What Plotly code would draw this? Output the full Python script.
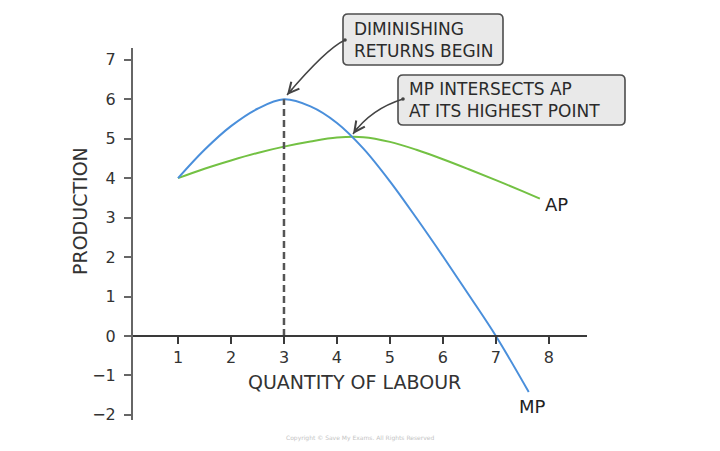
import plotly.graph_objects as go

# ---------------- data ----------------
mp_x = [1.0, 1.5, 2.0, 2.5, 3.0, 3.5, 4.0, 4.5, 5.0, 5.5, 6.0, 6.5, 7.0, 7.62]
mp_y = [4.0, 4.72, 5.32, 5.76, 6.0, 5.82, 5.4, 4.75, 3.92, 2.99, 2.02, 1.02, 0.0, -1.42]

ap_x = [1.0, 1.5, 2.0, 2.5, 3.0, 3.5, 4.0, 4.5, 5.0, 5.5, 6.0, 6.5, 7.0, 7.5, 7.83]
ap_y = [4.0, 4.24, 4.45, 4.64, 4.8, 4.93, 5.03, 5.04, 4.92, 4.72, 4.48, 4.22, 3.95, 3.67, 3.48]

x_ticks = [1, 2, 3, 4, 5, 6, 7, 8]
y_ticks = [-2, -1, 0, 1, 2, 3, 4, 5, 6, 7]

dr_x = [3, 3]          # diminishing returns begin
dr_y = [0, 6]

x_title = "QUANTITY OF LABOUR"
y_title = "PRODUCTION"
box1_text = "DIMINISHING<br>RETURNS BEGIN"
box2_text = "MP INTERSECTS AP<br>AT ITS HIGHEST POINT"

# ---------------- layout helpers ----------------
W, H = 720, 451
ML, MR, MT, MB = 133, 133, 48, 31
PW, PH = W - ML - MR, H - MT - MB
x_range = [0.15, 8.72]
y_range = [-2.13, 7.30]

def px(xp):
    return (xp - ML) / PW

def py(yp):
    return (H - MB - yp) / PH

FONT = "DejaVu Sans"
TXT = "#333333"
BLUE = "#4a8fdb"
GREEN = "#73c143"

fig = go.Figure()
fig.add_trace(go.Scatter(x=ap_x, y=ap_y, mode="lines", line=dict(color=GREEN, width=2, shape="spline"),
                         hoverinfo="skip", showlegend=False))
fig.add_trace(go.Scatter(x=mp_x, y=mp_y, mode="lines", line=dict(color=BLUE, width=2, shape="spline"),
                         hoverinfo="skip", showlegend=False))
fig.add_trace(go.Scatter(x=dr_x, y=dr_y, mode="lines", line=dict(color="#555555", width=2.5, dash="7px,4px"),
                         hoverinfo="skip", showlegend=False))

y0_frac = (0 - y_range[0]) / (y_range[1] - y_range[0])

fig.update_layout(
    width=W, height=H,
    margin=dict(l=ML, r=MR, t=MT, b=MB),
    paper_bgcolor="white", plot_bgcolor="white",
    font=dict(family=FONT, color=TXT),
    xaxis=dict(range=x_range, tickvals=x_ticks, showgrid=False, zeroline=False,
               showline=True, linecolor="#3a3a3a", linewidth=1.6,
               ticks="outside", ticklen=7, tickwidth=1.5, tickcolor="#3a3a3a",
               anchor="free", position=y0_frac,
               tickfont=dict(family=FONT, size=16, color=TXT)),
    yaxis=dict(range=y_range, tickvals=y_ticks, showgrid=False, zeroline=False,
               showline=True, linecolor="#666666", linewidth=2,
               ticks="outside", ticklen=7, tickwidth=1.5, tickcolor="#666666",
               ticklabelstandoff=5,
               tickfont=dict(family=FONT, size=16, color=TXT)),
)

anns = []
anns.append(dict(xref="paper", yref="paper", x=px(354), y=py(382), text=x_title, showarrow=False,
                 font=dict(size=19, color=TXT), xanchor="center", yanchor="middle"))
anns.append(dict(xref="paper", yref="paper", x=px(80), y=py(211), text=y_title, showarrow=False,
                 textangle=-90, font=dict(size=19, color=TXT), xanchor="center", yanchor="middle"))
anns.append(dict(xref="paper", yref="paper", x=px(556), y=py(205), text="AP", showarrow=False,
                 font=dict(size=18, color="#222222"), xanchor="center", yanchor="middle"))
anns.append(dict(xref="paper", yref="paper", x=px(532), y=py(406), text="MP", showarrow=False,
                 font=dict(size=18, color="#222222"), xanchor="center", yanchor="middle"))
anns.append(dict(xref="paper", yref="paper", x=px(360), y=py(438),
                 text="Copyright © Save My Exams. All Rights Reserved", showarrow=False,
                 font=dict(size=6, color="#c4c4c4"), xanchor="center", yanchor="middle"))
anns.append(dict(xref="paper", yref="paper", x=px(352), y=py(40), text=box1_text, showarrow=False,
                 align="left", xanchor="left", yanchor="middle", font=dict(size=17, color="#2b2b2b")))
anns.append(dict(xref="paper", yref="paper", x=px(407), y=py(100), text=box2_text, showarrow=False,
                 align="left", xanchor="left", yanchor="middle", font=dict(size=17, color="#2b2b2b")))

shapes = []

def rounded_box(x0, y0, x1, y1, r=5):
    X = lambda v: px(v)
    Y = lambda v: py(v)
    p = (f"M {X(x0+r)},{Y(y0)} L {X(x1-r)},{Y(y0)} Q {X(x1)},{Y(y0)} {X(x1)},{Y(y0+r)} "
         f"L {X(x1)},{Y(y1-r)} Q {X(x1)},{Y(y1)} {X(x1-r)},{Y(y1)} "
         f"L {X(x0+r)},{Y(y1)} Q {X(x0)},{Y(y1)} {X(x0)},{Y(y1-r)} "
         f"L {X(x0)},{Y(y0+r)} Q {X(x0)},{Y(y0)} {X(x0+r)},{Y(y0)} Z")
    return dict(type="path", xref="paper", yref="paper", path=p,
                fillcolor="#e9e9e9", line=dict(color="#4d4d4d", width=1.6), layer="below")

shapes.append(rounded_box(343, 14, 503, 65))
shapes.append(rounded_box(398, 75, 625, 125))

def curved_arrow(p0, c, p2):
    path = f"M {px(p0[0])},{py(p0[1])} Q {px(c[0])},{py(c[1])} {px(p2[0])},{py(p2[1])}"
    shapes.append(dict(type="path", xref="paper", yref="paper", path=path,
                       line=dict(color="#444444", width=1.4)))
    shapes.append(dict(type="circle", xref="paper", yref="paper",
                       x0=px(p0[0]-1.8), x1=px(p0[0]+1.8), y0=py(p0[1]+1.8), y1=py(p0[1]-1.8),
                       fillcolor="#444444", line=dict(width=0)))
    dx, dy = p2[0] - c[0], p2[1] - c[1]
    n = (dx * dx + dy * dy) ** 0.5
    L = 10
    anns.append(dict(xref="paper", yref="paper", x=px(p2[0]), y=py(p2[1]), text="",
                     showarrow=True, ax=-dx / n * L, ay=-dy / n * L, axref="pixel", ayref="pixel",
                     arrowhead=5, arrowsize=1.6, arrowwidth=1.3, arrowcolor="#444444", standoff=0))

curved_arrow((345, 40), (326, 49), (287, 95))
curved_arrow((403, 99), (371, 109), (353, 134))

fig.update_layout(annotations=anns, shapes=shapes)
fig.write_html("out.html")
